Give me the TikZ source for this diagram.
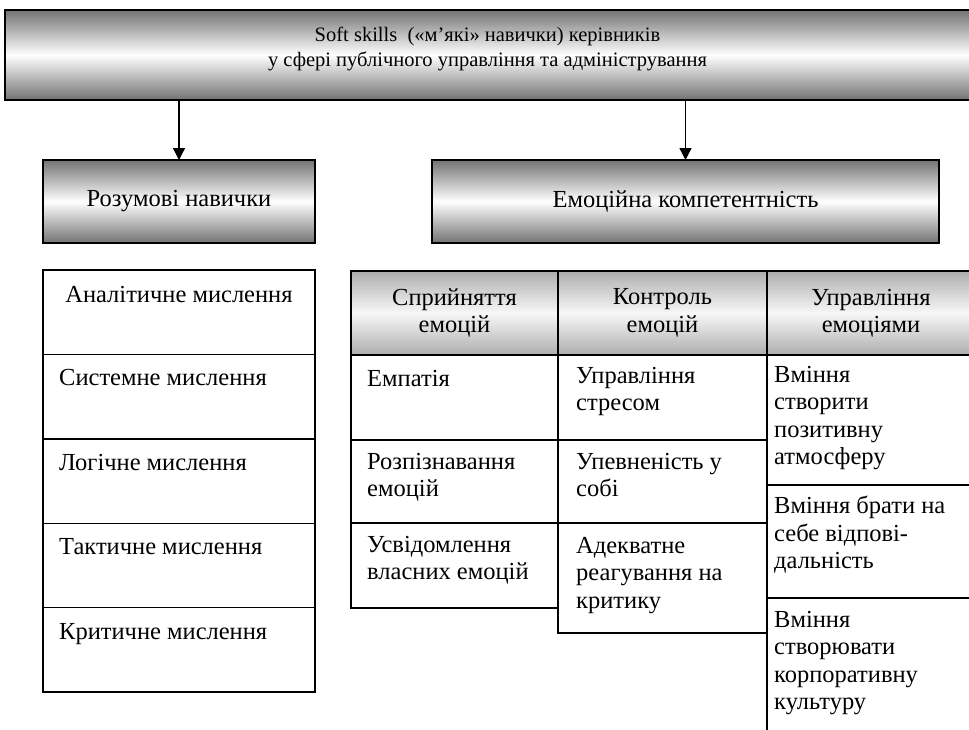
\documentclass[tikz,border=0pt]{standalone}
\usepackage{fontspec}
\setmainfont{Liberation Serif}
\usetikzlibrary{arrows.meta}

\newcommand{\mainsize}{\fontsize{24.5}{27.5}\selectfont}
\newcommand{\titlesize}{\fontsize{20.5}{25.5}\selectfont}

\tikzset{
  hatbox/.style={draw, line width=1.6pt, inner sep=0pt, outer sep=0pt,
    top color=black!55, bottom color=black!55, middle color=white, align=center},
  headcell/.style={draw, line width=1.4pt, inner sep=0pt, outer sep=0pt, anchor=north west,
    top color=black!32, bottom color=black!32, middle color=black!3,
    align=center, minimum height=84pt},
  cell/.style={draw, line width=1.4pt, inner sep=0pt, outer sep=0pt, anchor=north west},
  celltext/.style={anchor=north west, align=left, inner sep=0pt, execute at begin node=\strut},
}

\begin{document}
\begin{tikzpicture}[x=1pt, y=-1pt, font=\mainsize]
	\path[use as bounding box, fill=white] (0,0) rectangle (969,729);

	% top level
	\node[hatbox, minimum width=965pt, minimum height=90pt, text depth=16pt, font=\titlesize] (title) at (487.5,55)
		{Soft skills~ («м’які» навички) керівників\\у сфері публічного управління та адміністрування};
	\node[hatbox, minimum width=272pt, minimum height=83pt] (mind) at (179,201.5) {Розумові навички};
	\node[hatbox, minimum width=507pt, minimum height=83pt] (emo) at (685.5,201.5) {Емоційна компетентність};
	\draw[line width=1.3pt, -{Triangle[width=12pt,length=12pt]}] (title.south -| mind.north) -- (mind.north);
	\draw[line width=1.3pt, -{Triangle[width=12pt,length=12pt]}] (title.south -| emo.north) -- (emo.north);

	% thinking skills
	\node[cell, minimum width=272pt, minimum height=84.4pt] (think1) at (43,270) {};
	\node[cell, minimum width=272pt, minimum height=84.4pt] (think2) at (think1.south west) {};
	\node[cell, minimum width=272pt, minimum height=84.4pt] (think3) at (think2.south west) {};
	\node[cell, minimum width=272pt, minimum height=84.4pt] (think4) at (think3.south west) {};
	\node[cell, minimum width=272pt, minimum height=84.4pt] (think5) at (think4.south west) {};
	\node[celltext, anchor=north] (thinktext1) at ([shift={(0,13)}]think1.north) {Аналітичне мислення};
	\node[celltext] (thinktext2) at ([shift={(16,12)}]think2.north west) {Системне мислення};
	\node[celltext] (thinktext3) at ([shift={(16,12)}]think3.north west) {Логічне мислення};
	\node[celltext] (thinktext4) at ([shift={(16,12)}]think4.north west) {Тактичне мислення};
	\node[celltext] (thinktext5) at ([shift={(16,12)}]think5.north west) {Критичне мислення};

	% emotional competence table
	\node[headcell, minimum width=207pt] (head1) at (351,271) {Сприйняття\\емоцій};
	\node[headcell, minimum width=209pt] (head2) at (head1.north east) {Контроль\\емоцій};
	\node[headcell, minimum width=208pt] (head3) at (head2.north east) {Управління\\емоціями};

	\node[cell, minimum width=207pt, minimum height=85pt] (perc1) at (head1.south west) {};
	\node[cell, minimum width=207pt, minimum height=83pt] (perc2) at (perc1.south west) {};
	\node[cell, minimum width=207pt, minimum height=85pt] (perc3) at (perc2.south west) {};
	\node[celltext] (perctext1) at ([shift={(16,12)}]perc1.north west) {Емпатія};
	\node[celltext] (perctext2) at ([shift={(16,13)}]perc2.north west) {Розпізнавання\\емоцій};
	\node[celltext] (perctext3) at ([shift={(16,13)}]perc3.north west) {Усвідомлення\\власних емоцій};

	\node[cell, minimum width=209pt, minimum height=85pt] (ctrl1) at (head2.south west) {};
	\node[cell, minimum width=209pt, minimum height=83pt] (ctrl2) at (ctrl1.south west) {};
	\node[cell, minimum width=209pt, minimum height=110pt] (ctrl3) at (ctrl2.south west) {};
	\node[celltext] (ctrltext1) at ([shift={(18,12)}]ctrl1.north west) {Управління\\стресом};
	\node[celltext] (ctrltext2) at ([shift={(18,13)}]ctrl2.north west) {Упевненість у\\собі};
	\node[celltext] (ctrltext3) at ([shift={(18,14)}]ctrl3.north west) {Адекватне\\реагування на\\критику};

	\node[cell, minimum width=208pt, minimum height=130pt] (mng1) at (head3.south west) {};
	\node[cell, minimum width=208pt, minimum height=113pt] (mng2) at (mng1.south west) {};
	\node[cell, minimum width=208pt, minimum height=140pt] (mng3) at (mng2.south west) {};
	\node[celltext] (mngtext1) at ([shift={(7,11)}]mng1.north west) {Вміння\\створити\\позитивну\\атмосферу};
	\node[celltext] (mngtext2) at ([shift={(7,11)}]mng2.north west) {Вміння брати на\\себе відпові-\\дальність};
	\node[celltext] (mngtext3) at ([shift={(7,13)}]mng3.north west) {Вміння\\створювати\\корпоративну\\культуру};
\end{tikzpicture}
\end{document}
